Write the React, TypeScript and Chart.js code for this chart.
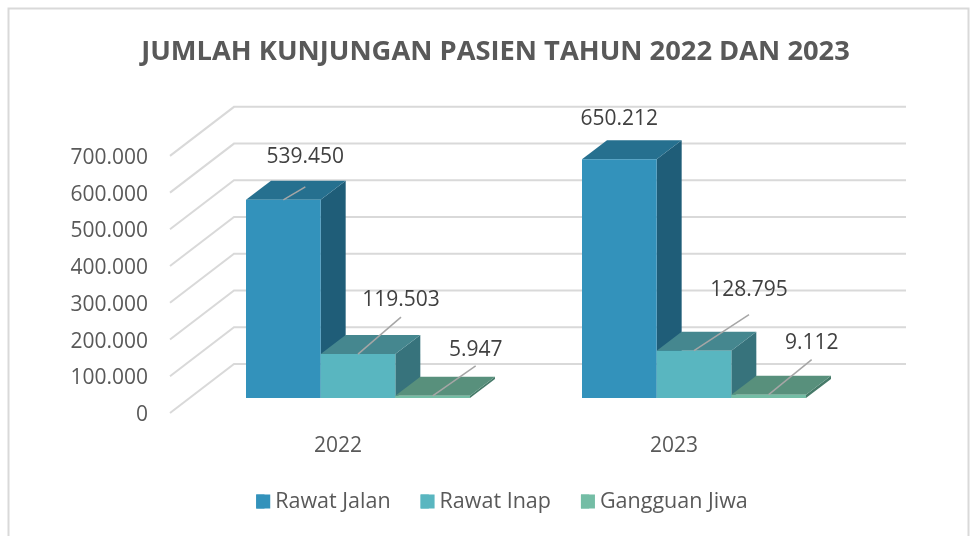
import React, { useEffect, useRef } from "react";
import { Chart, registerables } from "chart.js";

Chart.register(...registerables);

const categories = ["2022", "2023"];
const rawatJalan = [539450, 650212];
const rawatInap = [119503, 128795];
const gangguanJiwa = [5947, 9112];
const seriesNames = ["Rawat Jalan", "Rawat Inap", "Gangguan Jiwa"];
const titleText = "JUMLAH KUNJUNGAN PASIEN TAHUN 2022 DAN 2023";
const axisMax = 700000;
const axisStep = 100000;

const FONT = "'Open Sans', sans-serif";
const frontColors = ["#3392BB", "#59B6C0", "#74BDA5"];
const topColors = ["#26708F", "#45878F", "#58907C"];
const sideColors = ["#1F5D78", "#37737C", "#467A69"];

// 3D projection (px)
const WALL = { dx: 64, dy: 49 };
const BAR_PLANE = { dx: 20, dy: 15 };
const BAR_DEPTH = { dx: 25, dy: 19 };

// [series][category]: label centre and leader end, relative to the bar's front-top centre
const labelPlacement = [
  [{ dx: 22, dy: -43, leader: -13 }, { dx: 0, dy: -40, leader: null }],
  [{ dx: 43, dy: -54, leader: -37 }, { dx: 55, dy: -61, leader: -36 }],
  [{ dx: 43, dy: -46, leader: -30 }, { dx: 43, dy: -52, leader: -35 }],
];

const dotted = (v: number) => String(v).replace(/\B(?=(\d{3})+(?!\d))/g, ".");

function poly(ctx: CanvasRenderingContext2D, pts: number[][], fill: string) {
  ctx.beginPath();
  pts.forEach((p, i) => (i ? ctx.lineTo(p[0], p[1]) : ctx.moveTo(p[0], p[1])));
  ctx.closePath();
  ctx.fillStyle = fill;
  ctx.fill();
}

const chart3d = {
  id: "chart3d",
  afterLayout(chart: any) {
    chart.titleBlock.left += 74.5;
    chart.titleBlock.right += 74.5;
    chart.legend.left += 81;
    chart.legend.right += 81;
    chart.legend.top -= 13.75;
    chart.legend.bottom -= 13.75;
  },
  beforeDraw(chart: any) {
    const ctx = chart.ctx;
    ctx.save();
    ctx.fillStyle = "#fff";
    ctx.fillRect(0, 0, chart.width, chart.height);
    ctx.strokeStyle = "#D9D9D9";
    ctx.lineWidth = 2;
    ctx.strokeRect(8.5, 8.5, 960, 560);
    ctx.restore();
  },
  beforeDatasetDraw() {
    return false; // datasets are painted back-to-front below
  },
  beforeDatasetsDraw(chart: any) {
    const ctx = chart.ctx;
    const { left, right } = chart.chartArea;
    const y = chart.scales.y;
    ctx.save();
    ctx.strokeStyle = "#D9D9D9";
    ctx.lineWidth = 2;
    y.ticks.forEach((t: any) => {
      const py = y.getPixelForValue(t.value);
      ctx.beginPath();
      ctx.moveTo(left, py);
      ctx.lineTo(left + WALL.dx, py - WALL.dy);
      ctx.lineTo(right + WALL.dx, py - WALL.dy);
      ctx.stroke();
    });
    ctx.restore();
  },
  afterDatasetsDraw(chart: any) {
    const ctx = chart.ctx;
    ctx.save();
    ctx.translate(BAR_PLANE.dx, BAR_PLANE.dy * -1);
    chart.data.datasets.forEach((_: any, di: number) => {
      const meta = chart.getDatasetMeta(di);
      meta.data.forEach((bar: any) => {
        const l = bar.x - bar.width / 2;
        const r = bar.x + bar.width / 2;
        const d = BAR_DEPTH;
        poly(ctx, [[r, bar.y], [r + d.dx, bar.y - d.dy], [r + d.dx, bar.base - d.dy], [r, bar.base]], sideColors[di]);
        poly(ctx, [[l, bar.y], [l + d.dx, bar.y - d.dy], [r + d.dx, bar.y - d.dy], [r, bar.y]], topColors[di]);
      });
      meta.controller.draw();
    });
    ctx.restore();
  },
  afterDraw(chart: any) {
    const ctx = chart.ctx;
    ctx.save();
    // full-size legend swatches over the library's narrower ones
    chart.legend.legendHitBoxes.forEach((h: any, i: number) => {
      ctx.fillStyle = frontColors[i];
      ctx.fillRect(h.left, h.top + h.height / 2 - 7, 14, 14);
    });
    ctx.translate(BAR_PLANE.dx, BAR_PLANE.dy * -1);
    chart.data.datasets.forEach((ds: any, di: number) => {
      chart.getDatasetMeta(di).data.forEach((bar: any, ci: number) => {
        const p = labelPlacement[di][ci];
        if (p.leader !== null) {
          ctx.strokeStyle = "#A6A6A6";
          ctx.lineWidth = 1.5;
          ctx.beginPath();
          ctx.moveTo(bar.x, bar.y);
          ctx.lineTo(bar.x + p.dx, bar.y + p.leader);
          ctx.stroke();
        }
        ctx.fillStyle = "#404040";
        ctx.font = `21px ${FONT}`;
        ctx.textAlign = "center";
        ctx.textBaseline = "middle";
        ctx.fillText(dotted(ds.data[ci]), bar.x + p.dx, bar.y + p.dy);
      });
    });
    ctx.restore();
  },
};

export default function App() {
  const ref = useRef<HTMLCanvasElement>(null);
  useEffect(() => {
    const seriesValues = [rawatJalan, rawatInap, gangguanJiwa];
    const chart = new Chart(ref.current!, {
      type: "bar",
      data: {
        labels: categories,
        datasets: seriesNames.map((name, i) => ({
          label: name,
          data: seriesValues[i],
          backgroundColor: frontColors[i],
          borderWidth: 0,
          categoryPercentage: 2 / 3,
          barPercentage: 1,
        })),
      },
      options: {
        responsive: false,
        animation: false,
        layout: { padding: { left: 0, right: 131, top: 0, bottom: 0 } },
        plugins: {
          tooltip: { enabled: false },
          title: {
            display: true,
            text: titleText,
            color: "#595959",
            font: { family: FONT, size: 27.3, weight: "bold", lineHeight: 1.2 },
            padding: { top: 35.5, bottom: 87.6 },
          },
          legend: {
            position: "bottom",
            labels: {
              color: "#595959",
              font: { family: FONT, size: 21.5 },
              boxWidth: 8.25,
              boxHeight: 14,
              padding: 30,
            },
          },
        },
        scales: {
          x: {
            grid: { display: false },
            border: { display: false },
            ticks: { color: "#595959", font: { family: FONT, size: 21 }, padding: 12 },
            afterFit: (s: any) => { s.height = 61.5; },
          },
          y: {
            min: 0,
            max: axisMax,
            grid: { display: false, drawTicks: false },
            border: { display: false },
            ticks: {
              stepSize: axisStep,
              color: "#595959",
              font: { family: FONT, size: 21 },
              padding: 22,
              labelOffset: 2,
              callback: (v: any) => dotted(Number(v)),
            },
            afterFit: (s: any) => { s.width = 170; },
          },
        },
      },
      plugins: [chart3d],
    } as any);
    return () => chart.destroy();
  }, []);
  return (
    <div style={{ position: "fixed", left: 0, top: 0, width: 973, height: 536, overflow: "hidden" }}>
      <canvas ref={ref} width={973} height={536} style={{ display: "block" }} />
    </div>
  );
}
